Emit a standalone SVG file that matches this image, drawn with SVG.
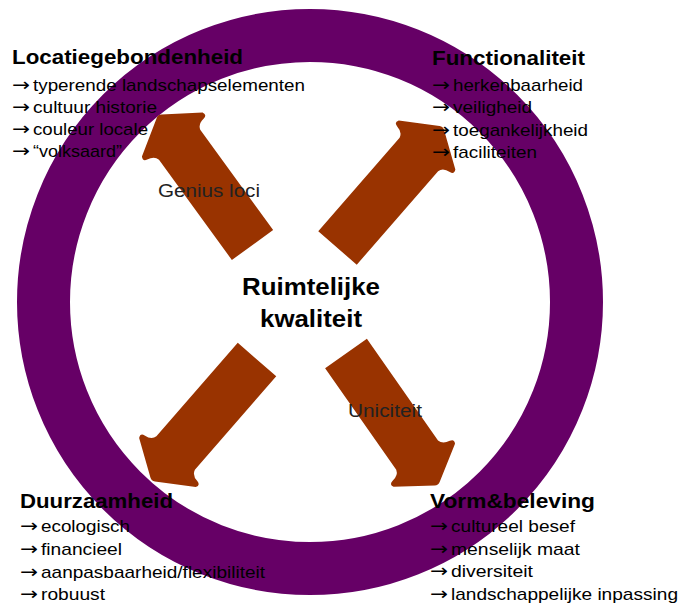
<svg xmlns="http://www.w3.org/2000/svg" width="681" height="603" viewBox="0 0 681 603">
<style>
.t{font-family:"Liberation Sans",Arial,sans-serif;fill:#000}
.h{font-size:20px;font-weight:bold}
.i{font-size:17px}
.a{font-family:"DejaVu Sans","Liberation Sans",sans-serif;font-size:18px;fill:#000}
.c{font-size:24px;font-weight:bold;text-anchor:middle}
.l{font-size:18px;fill:#222}
.arr{fill:#993300}
</style>
<defs>
<path id="blk" d="M-25.5 0 L-25.5 -124 Q-27 -130 -35 -131 Q-40 -132 -37.5 -136.5 L-3 -159 Q0 -161 3 -159 L37.5 -136.5 Q40 -132 35 -131 Q27 -130 25.5 -124 L25.5 0 Z"/>
</defs>
<rect width="681" height="603" fill="#fff"/>
<g id="ring">
<circle cx="310" cy="302" r="266.5" fill="none" stroke="#660066" stroke-width="53"/>
</g>
<g id="connectors">
<use href="#blk" class="arr" transform="translate(252.5,245) rotate(-36)"/>
<use href="#blk" class="arr" transform="translate(337.5,248) rotate(41)"/>
<use href="#blk" class="arr" transform="translate(257,359.5) rotate(-139)"/>
<use href="#blk" class="arr" transform="translate(346,353.5) rotate(145)"/>
<text class="t l" x="158" y="197" textLength="102" lengthAdjust="spacingAndGlyphs">Genius loci</text>
<text class="t l" x="348" y="417" textLength="74" lengthAdjust="spacingAndGlyphs">Uniciteit</text>
</g>
<g id="center">
<text class="t c" x="311" y="295" textLength="138" lengthAdjust="spacingAndGlyphs">Ruimtelijke</text>
<text class="t c" x="311" y="327" textLength="102" lengthAdjust="spacingAndGlyphs">kwaliteit</text>
</g>
<g id="locatiegebondenheid">
<text class="t h" x="12" y="63.5" textLength="231" lengthAdjust="spacingAndGlyphs">Locatiegebondenheid</text>
<text class="a" x="12" y="91" textLength="18" lengthAdjust="spacingAndGlyphs">→</text>
<text class="t i" x="33" y="91" textLength="272" lengthAdjust="spacingAndGlyphs">typerende landschapselementen</text>
<text class="a" x="12" y="113" textLength="18" lengthAdjust="spacingAndGlyphs">→</text>
<text class="t i" x="33" y="113" textLength="124" lengthAdjust="spacingAndGlyphs">cultuur historie</text>
<text class="a" x="12" y="135" textLength="18" lengthAdjust="spacingAndGlyphs">→</text>
<text class="t i" x="33" y="135" textLength="115" lengthAdjust="spacingAndGlyphs">couleur locale</text>
<text class="a" x="12" y="157" textLength="18" lengthAdjust="spacingAndGlyphs">→</text>
<text class="t i" x="33" y="157" textLength="89" lengthAdjust="spacingAndGlyphs">“volksaard”</text>
</g>
<g id="functionaliteit">
<text class="t h" x="432" y="65" textLength="153" lengthAdjust="spacingAndGlyphs">Functionaliteit</text>
<text class="a" x="432" y="90.5" textLength="18" lengthAdjust="spacingAndGlyphs">→</text>
<text class="t i" x="453" y="90.5" textLength="130" lengthAdjust="spacingAndGlyphs">herkenbaarheid</text>
<text class="a" x="432" y="113" textLength="18" lengthAdjust="spacingAndGlyphs">→</text>
<text class="t i" x="453" y="113" textLength="79" lengthAdjust="spacingAndGlyphs">veiligheid</text>
<text class="a" x="432" y="135.5" textLength="18" lengthAdjust="spacingAndGlyphs">→</text>
<text class="t i" x="453" y="135.5" textLength="135" lengthAdjust="spacingAndGlyphs">toegankelijkheid</text>
<text class="a" x="432" y="158" textLength="18" lengthAdjust="spacingAndGlyphs">→</text>
<text class="t i" x="453" y="158" textLength="84" lengthAdjust="spacingAndGlyphs">faciliteiten</text>
</g>
<g id="duurzaamheid">
<text class="t h" x="20" y="508" textLength="153" lengthAdjust="spacingAndGlyphs">Duurzaamheid</text>
<text class="a" x="20" y="532" textLength="18" lengthAdjust="spacingAndGlyphs">→</text>
<text class="t i" x="41" y="532" textLength="89" lengthAdjust="spacingAndGlyphs">ecologisch</text>
<text class="a" x="20" y="555" textLength="18" lengthAdjust="spacingAndGlyphs">→</text>
<text class="t i" x="41" y="555" textLength="81" lengthAdjust="spacingAndGlyphs">financieel</text>
<text class="a" x="20" y="578" textLength="18" lengthAdjust="spacingAndGlyphs">→</text>
<text class="t i" x="41" y="578" textLength="224" lengthAdjust="spacingAndGlyphs">aanpasbaarheid/flexibiliteit</text>
<text class="a" x="20" y="600" textLength="18" lengthAdjust="spacingAndGlyphs">→</text>
<text class="t i" x="41" y="600" textLength="64" lengthAdjust="spacingAndGlyphs">robuust</text>
</g>
<g id="vormbeleving">
<text class="t h" x="430" y="508" textLength="165" lengthAdjust="spacingAndGlyphs">Vorm&amp;beleving</text>
<text class="a" x="430" y="532" textLength="18" lengthAdjust="spacingAndGlyphs">→</text>
<text class="t i" x="451" y="532" textLength="124" lengthAdjust="spacingAndGlyphs">cultureel besef</text>
<text class="a" x="430" y="555" textLength="18" lengthAdjust="spacingAndGlyphs">→</text>
<text class="t i" x="451" y="555" textLength="129" lengthAdjust="spacingAndGlyphs">menselijk maat</text>
<text class="a" x="430" y="577" textLength="18" lengthAdjust="spacingAndGlyphs">→</text>
<text class="t i" x="451" y="577" textLength="82" lengthAdjust="spacingAndGlyphs">diversiteit</text>
<text class="a" x="430" y="600" textLength="18" lengthAdjust="spacingAndGlyphs">→</text>
<text class="t i" x="451" y="600" textLength="227" lengthAdjust="spacingAndGlyphs">landschappelijke inpassing</text>
</g>
</svg>
